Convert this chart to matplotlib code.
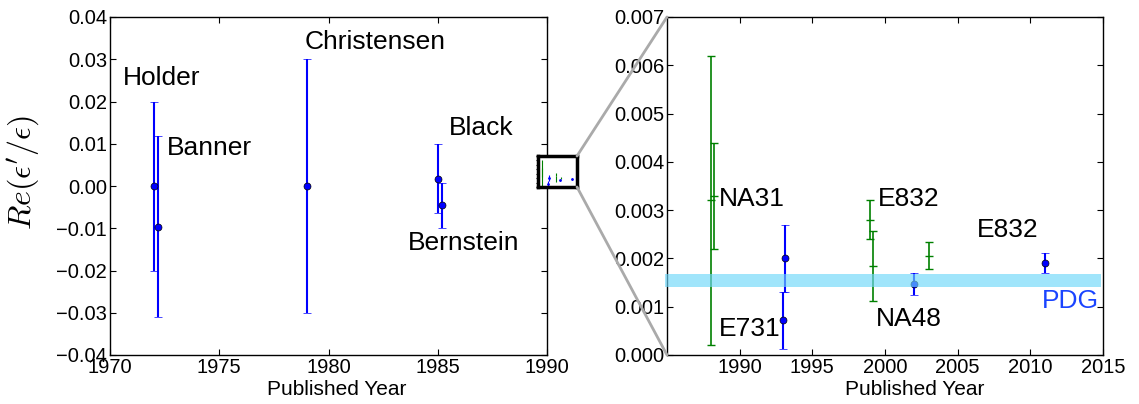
import matplotlib
matplotlib.use("Agg")
import matplotlib.pyplot as plt
from matplotlib.patches import ConnectionPatch
import numpy as np

plt.rcParams['font.family'] = ['Liberation Sans', 'DejaVu Sans']
plt.rcParams['mathtext.fontset'] = 'cm'

# early measurements (left panel)
early_names = ["Holder", "Banner", "Christensen", "Black", "Bernstein"]
early_year = [1972.0, 1972.2, 1979.0, 1985.0, 1985.2]
early_val = [0.0, -0.0096, 0.0, 0.0017, -0.0046]
early_err = [0.020, 0.0214, 0.030, 0.0082, 0.0053]
early_lx = [1970.6, 1972.6, 1978.9, 1985.5, 1983.65]
early_ly = [0.0255, 0.009, 0.034, 0.0138, -0.0134]

# later measurements, green (right panel)
green_year = [1988.0, 1988.2, 1999.0, 1999.2, 2003.0]
green_val = [0.0032, 0.0033, 0.0028, 0.00184, 0.00206]
green_err = [0.0030, 0.0011, 0.0004, 0.00073, 0.00028]

# later measurements, blue (right panel)
blue_year = [1993.15, 1993.0, 2002.0, 2011.0]
blue_val = [0.0020, 0.00072, 0.00147, 0.0019]
blue_err = [0.0007, 0.00059, 0.00022, 0.00021]

late_names = ["NA31", "E731", "E832", "E832", "NA48"]
late_lx = [1988.55, 1988.55, 1999.5, 2006.3, 1999.35]
late_ly = [0.00323, 0.00053, 0.00323, 0.00259, 0.00074]

pdg_lo, pdg_hi = 0.00141, 0.00168

fig = plt.figure(figsize=(11.39, 4.04), dpi=100)
ax1 = fig.add_axes([110/1139, 49/404, 437/1139, 338/404])
ax2 = fig.add_axes([667/1139, 49/404, 436/1139, 338/404])

def style(ax):
    ax.tick_params(direction='in', top=True, right=True, labelsize=14.5, length=4, pad=2)
    for s in ax.spines.values():
        s.set_linewidth(1.0)

# left panel
ax1.errorbar(early_year, early_val, yerr=early_err, fmt='o', color='b', mfc='b',
             mec='k', mew=0.5, ms=5, capsize=3, elinewidth=1.5, capthick=1)
for n, x, y in zip(early_names, early_lx, early_ly):
    ax1.text(x, y, n, fontsize=19, ha='left', va='center')
ax1.set_xlim(1970, 1990)
ax1.set_ylim(-0.04, 0.04)
ax1.set_xticks(np.arange(1970, 1991, 5))
ax1.set_yticks(np.arange(-0.04, 0.041, 0.01))
style(ax1)
ax1.set_xlabel("Published Year", fontsize=15)
ax1.xaxis.set_label_coords(0.519, -0.075)
ax1.set_ylabel(r"$Re(\epsilon^{\prime}/\epsilon)$", fontsize=23)
ax1.yaxis.set_label_coords(-0.155, 0.54)

# right panel
ax2.errorbar(green_year, green_val, yerr=green_err, fmt='_', color='g', ms=6,
             capsize=3, elinewidth=1.2, capthick=1)
ax2.errorbar(blue_year, blue_val, yerr=blue_err, fmt='o', color='b', mfc='b',
             mec='k', mew=0.5, ms=5, capsize=3, elinewidth=1.5, capthick=1)
ax2.fill_between([1984.85, 2014.85], pdg_lo, pdg_hi, color='#6ed7fa', alpha=0.65,
                 lw=0, clip_on=False, zorder=5)
for n, x, y in zip(late_names, late_lx, late_ly):
    ax2.text(x, y, n, fontsize=19, ha='left', va='center')
ax2.text(2010.8, 0.00112, "PDG", fontsize=19, ha='left', va='center', color='#1a44ff')
ax2.set_xlim(1985, 2015)
ax2.set_ylim(0, 0.007)
ax2.set_xticks(np.arange(1990, 2016, 5))
ax2.set_yticks(np.arange(0, 0.0071, 0.001))
style(ax2)
ax2.set_xlabel("Published Year", fontsize=15)
ax2.xaxis.set_label_coords(0.569, -0.075)

# miniature of the right panel sitting on the left panel
ins = fig.add_axes([538/1139, 217/404, 39/1139, 31/404])
ins.errorbar(green_year, green_val, yerr=green_err, fmt='none', color='g', lw=0.8)
ins.errorbar(blue_year, blue_val, yerr=blue_err, fmt='o', color='b', ms=1, lw=0.8)
ins.set_xlim(1985, 2015)
ins.set_ylim(0, 0.007)
ins.set_xticks([])
ins.set_yticks(np.arange(0, 0.0071, 0.001))
ins.tick_params(axis='y', direction='out', length=1.5, width=0.8, labelleft=False)
for s in ins.spines.values():
    s.set_linewidth(2.5)

for a, b in [((1, 1), (0, 1)), ((1, 0), (0, 0))]:
    con = ConnectionPatch(xyA=a, coordsA=ins.transAxes, xyB=b, coordsB=ax2.transAxes,
                          color='#aaaaaa', lw=2)
    fig.add_artist(con)

fig.savefig("out.png", dpi=100)
